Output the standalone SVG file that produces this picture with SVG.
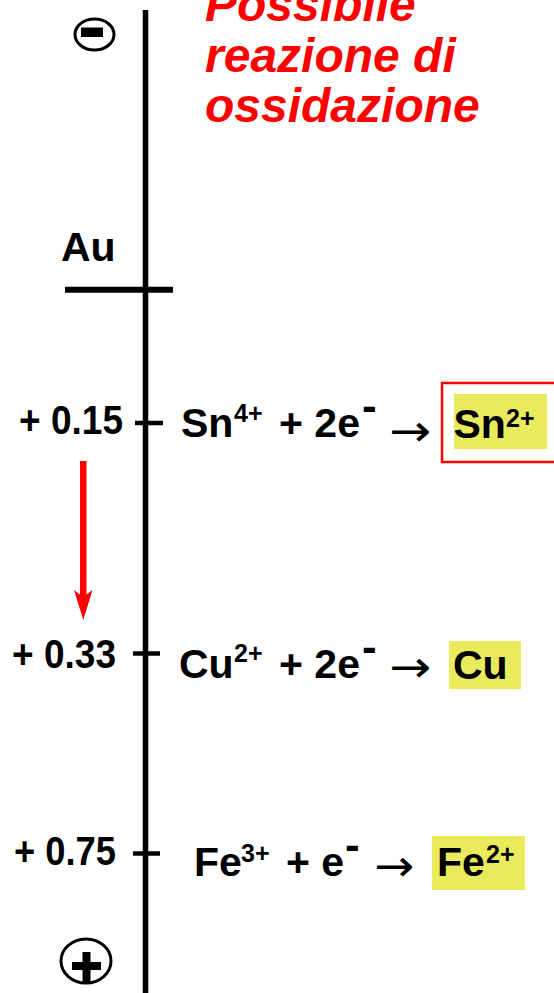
<svg xmlns="http://www.w3.org/2000/svg" width="554" height="993" viewBox="0 0 554 993">
<style>
.t{font-family:"Liberation Sans",Arial,sans-serif;font-weight:bold;fill:#000}
.big{font-size:41px}
.num{font-size:40px;text-anchor:end}
.sup{font-size:25px}
.neg{font-size:44px}
.arr{font-family:"DejaVu Sans",sans-serif;font-size:44px;fill:#000}
.title{font-family:"Liberation Sans",Arial,sans-serif;font-weight:bold;font-style:italic;font-size:48px;fill:#ff0000}
.hl{fill:#e9ea5c}
.ln{stroke:#000;fill:none}
</style>
<rect width="554" height="993" fill="#fff"/>
<g id="title">
<text class="title" x="205" y="21">Possibile</text>
<text class="title" x="205" y="72">reazione di</text>
<text class="title" x="205" y="122">ossidazione</text>
</g>
<g id="connectors">
<line class="ln" x1="145.5" y1="10" x2="145.5" y2="993" stroke-width="5.5"/>
<line class="ln" x1="65" y1="289.7" x2="173" y2="289.7" stroke-width="6"/>
<line class="ln" x1="135" y1="423" x2="163" y2="423" stroke-width="4.5"/>
<line class="ln" x1="133" y1="653.5" x2="160" y2="653.5" stroke-width="4.5"/>
<line class="ln" x1="133" y1="853.5" x2="160" y2="853.5" stroke-width="4.5"/>
<g id="red-arrow" fill="#ff0000">
<rect x="80" y="461" width="6.5" height="137"/>
<polygon points="74,590 83.3,597 92.5,590 83.3,620"/>
</g>
</g>
<g id="minus-pole">
<ellipse cx="94.5" cy="34.5" rx="19.5" ry="15.5" fill="none" stroke="#000" stroke-width="3"/>
<rect x="81" y="27.5" width="22" height="9.5" fill="#000"/>
</g>
<g id="plus-pole">
<ellipse cx="86" cy="961" rx="25" ry="22" fill="none" stroke="#000" stroke-width="3"/>
<rect x="72" y="962" width="29" height="8" fill="#000"/>
<rect x="82.5" y="952" width="8" height="30" fill="#000"/>
</g>
<g id="au">
<text class="t big" x="61" y="261">Au</text>
</g>
<g id="sn">
<text class="t num" x="123" y="434" textLength="104" lengthAdjust="spacingAndGlyphs">+ 0.15</text>
<text class="t big" x="181" y="437">Sn</text>
<text class="t sup" x="234" y="422">4+</text>
<text class="t big" x="279" y="437">+ 2e</text>
<text class="t neg" x="362" y="421">-</text>
<text class="arr" x="389" y="446" textLength="42" lengthAdjust="spacingAndGlyphs">→</text>
<rect x="442" y="383" width="124" height="79" fill="none" stroke="#ff0000" stroke-width="2.5"/>
<rect class="hl" x="454" y="394" width="93" height="55"/>
<text class="t big" x="453.5" y="438">Sn</text>
<text class="t sup" x="506" y="427">2+</text>
</g>
<g id="cu">
<text class="t num" x="116" y="668" textLength="104" lengthAdjust="spacingAndGlyphs">+ 0.33</text>
<text class="t big" x="179" y="678">Cu</text>
<text class="t sup" x="234" y="662">2+</text>
<text class="t big" x="279" y="678">+ 2e</text>
<text class="t neg" x="362" y="662">-</text>
<text class="arr" x="389" y="682" textLength="42" lengthAdjust="spacingAndGlyphs">→</text>
<rect class="hl" x="449" y="641" width="72" height="48"/>
<text class="t big" x="453" y="679">Cu</text>
</g>
<g id="fe">
<text class="t num" x="116" y="865" textLength="102" lengthAdjust="spacingAndGlyphs">+ 0.75</text>
<text class="t big" x="194" y="876">Fe</text>
<text class="t sup" x="241" y="862">3+</text>
<text class="t big" x="286" y="876">+ e</text>
<text class="t neg" x="345" y="860">-</text>
<text class="arr" x="374" y="881" textLength="40" lengthAdjust="spacingAndGlyphs">→</text>
<rect class="hl" x="432" y="836" width="93" height="54"/>
<text class="t big" x="437" y="876">Fe</text>
<text class="t sup" x="486" y="863">2+</text>
</g>
</svg>
